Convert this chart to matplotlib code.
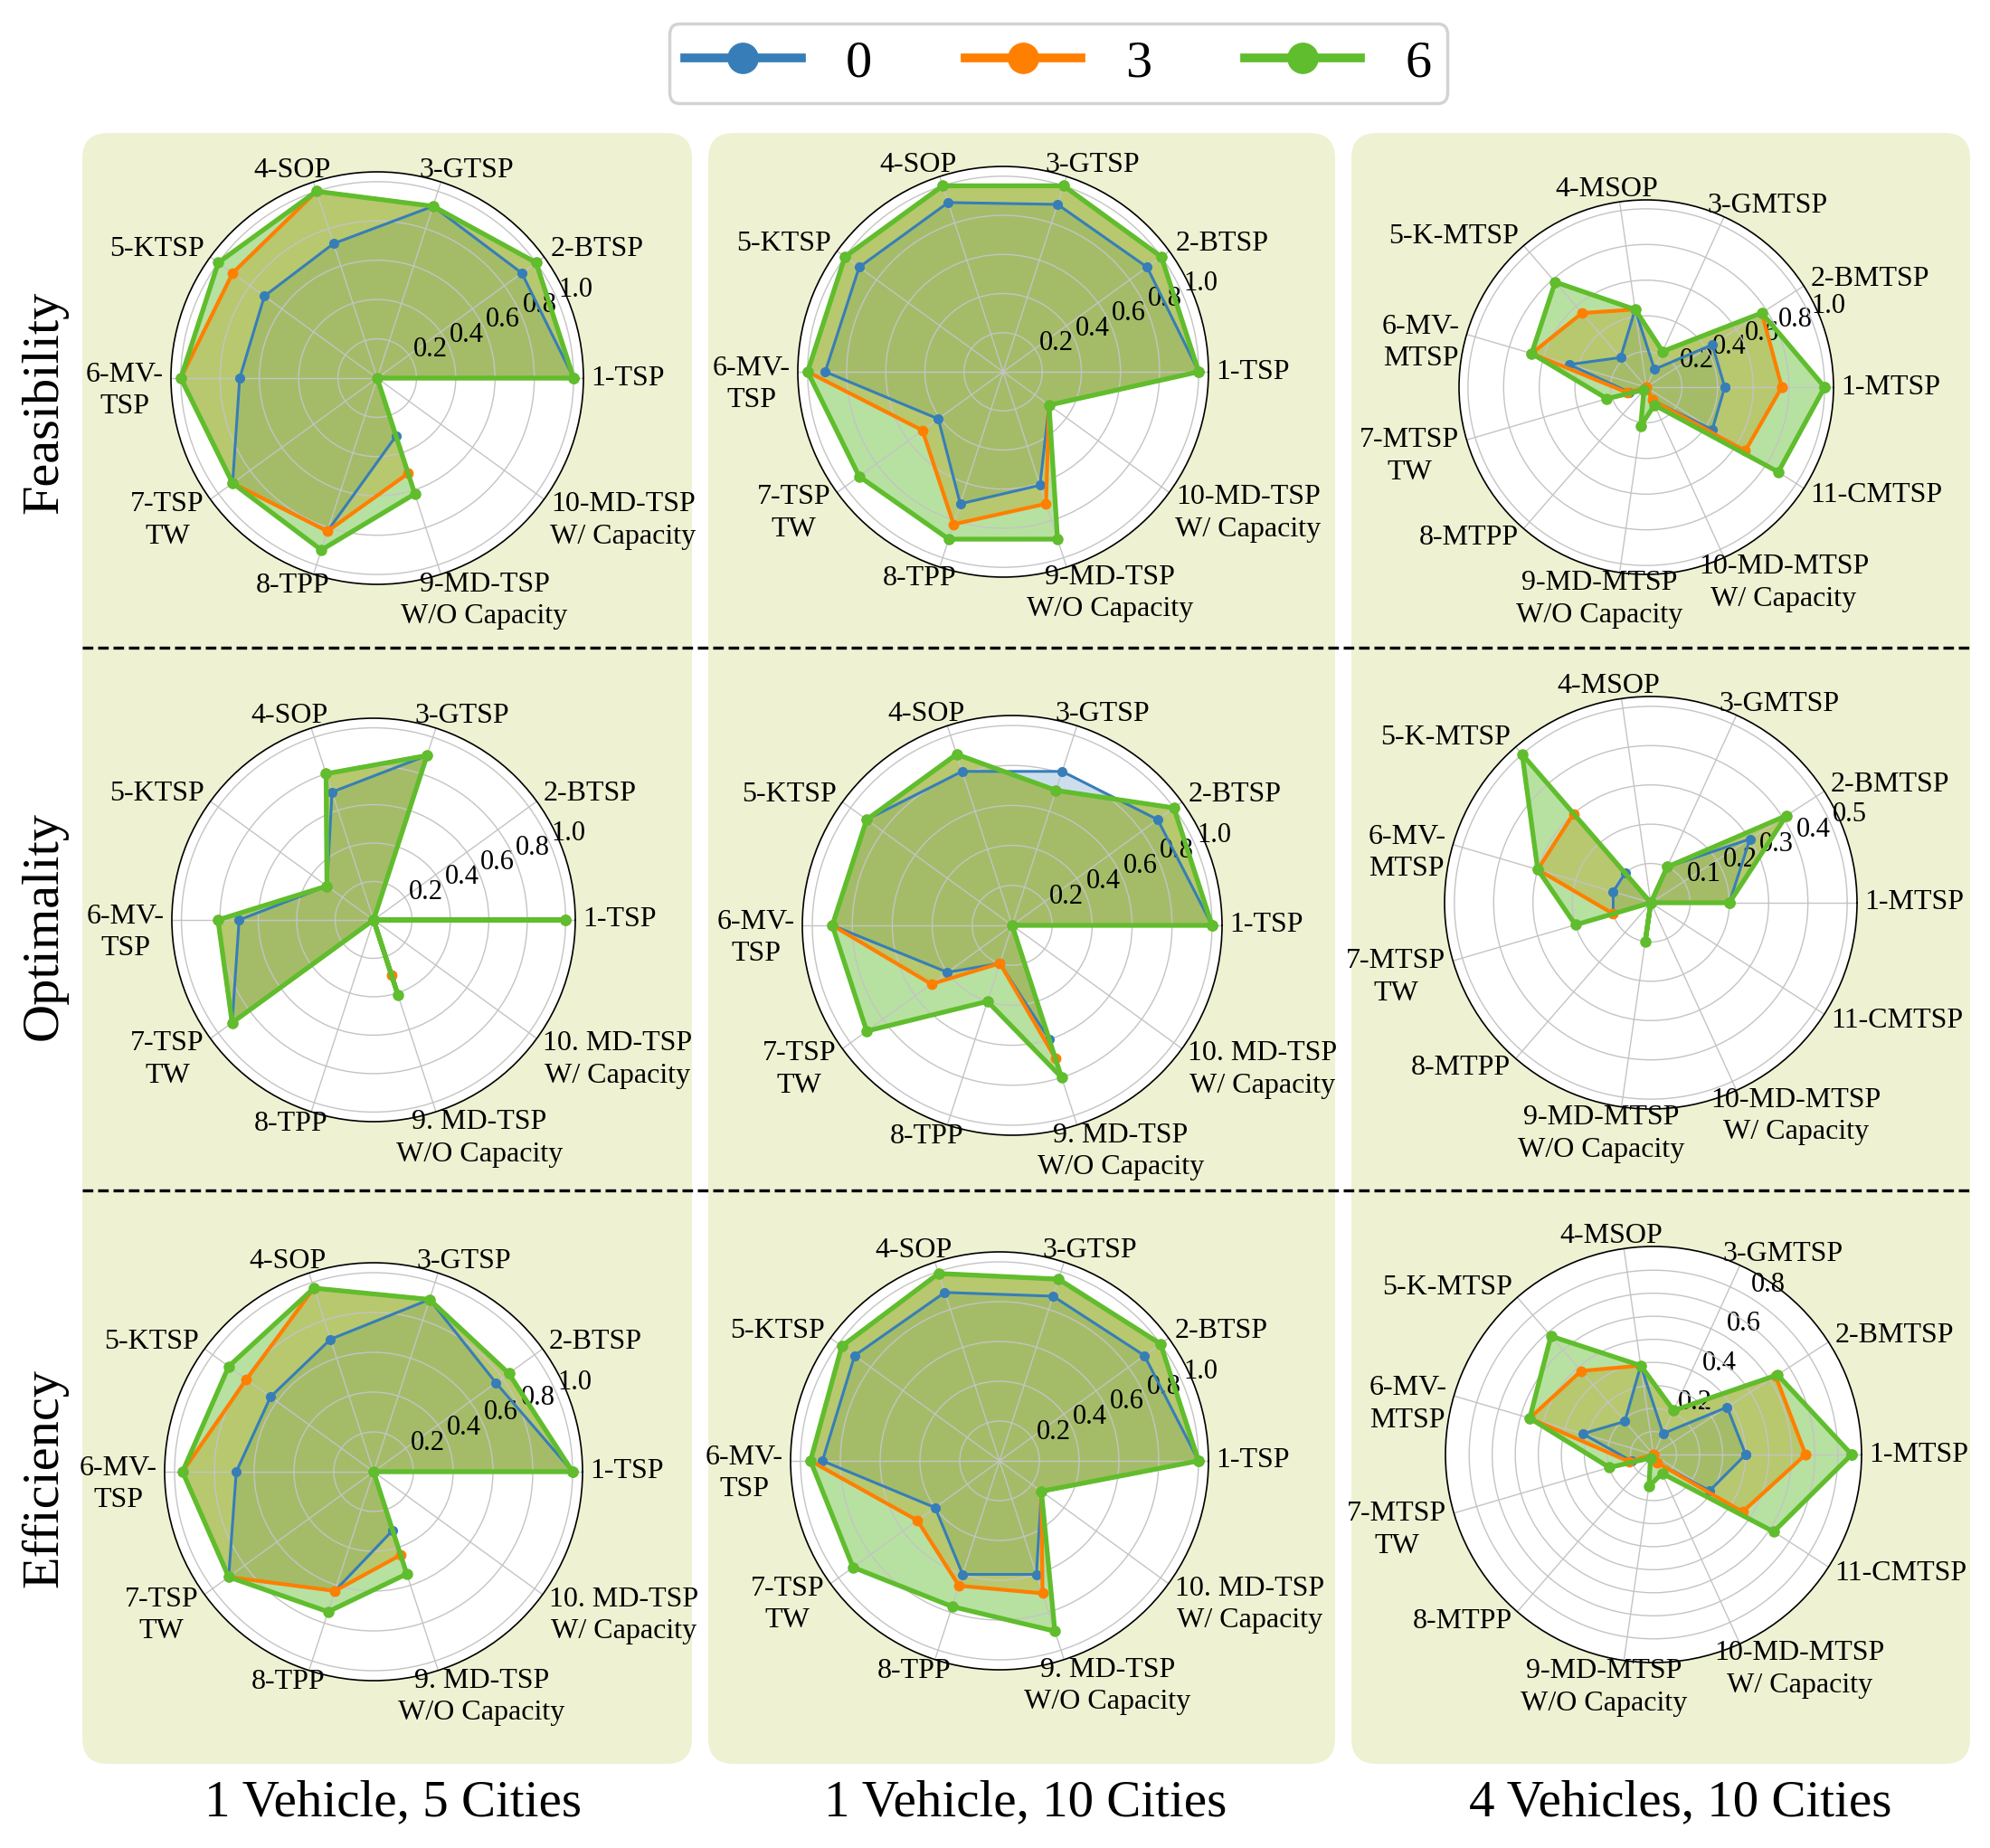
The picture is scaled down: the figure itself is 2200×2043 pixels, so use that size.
import numpy as np
import matplotlib
matplotlib.use("Agg")
import matplotlib.pyplot as plt
from matplotlib.patches import FancyBboxPatch
from matplotlib.lines import Line2D

plt.rcParams['font.family'] = ['Liberation Serif', 'DejaVu Serif']

# ---------------- data ----------------
series_names = ['0', '3', '6']
series_colors = ['#377eb8', '#ff7f00', '#60bd2d']

labels_single_row1 = ['1-TSP', '2-BTSP', '3-GTSP', '4-SOP', '5-KTSP', '6-MV-\nTSP',
                      '7-TSP\nTW', '8-TPP', '9-MD-TSP\nW/O Capacity', '10-MD-TSP\nW/ Capacity']
labels_single = ['1-TSP', '2-BTSP', '3-GTSP', '4-SOP', '5-KTSP', '6-MV-\nTSP',
                 '7-TSP\nTW', '8-TPP', '9. MD-TSP\nW/O Capacity', '10. MD-TSP\nW/ Capacity']
labels_multi = ['1-MTSP', '2-BMTSP', '3-GMTSP', '4-MSOP', '5-K-MTSP', '6-MV-\nMTSP',
                '7-MTSP\nTW', '8-MTPP', '9-MD-MTSP\nW/O Capacity', '10-MD-MTSP\nW/ Capacity',
                '11-CMTSP']

row_titles = ['Feasibility', 'Optimality', 'Efficiency']
col_titles = ['1 Vehicle, 5 Cities', '1 Vehicle, 10 Cities', '4 Vehicles, 10 Cities']

# Feasibility
feas_5c_0 = [1.0, 0.91, 0.92, 0.72, 0.71, 0.70, 0.91, 0.82, 0.31, 0.0]
feas_5c_3 = [1.0, 1.0, 0.92, 1.0, 0.91, 1.0, 0.91, 0.82, 0.51, 0.0]
feas_5c_6 = [1.0, 1.0, 0.92, 1.0, 1.0, 1.0, 0.91, 0.92, 0.62, 0.0]

feas_10c_0 = [1.0, 0.91, 0.90, 0.91, 0.91, 0.91, 0.41, 0.71, 0.61, 0.29]
feas_10c_3 = [1.0, 1.0, 1.0, 1.0, 1.0, 1.0, 0.51, 0.82, 0.71, 0.29]
feas_10c_6 = [1.0, 1.0, 1.0, 1.0, 1.0, 1.0, 0.91, 0.90, 0.90, 0.29]

feas_4v_0 = [0.44, 0.44, 0.11, 0.44, 0.22, 0.45, 0.10, 0.0, 0.0, 0.08, 0.44]
feas_4v_3 = [0.76, 0.77, 0.22, 0.44, 0.55, 0.67, 0.11, 0.0, 0.0, 0.08, 0.66]
feas_4v_6 = [1.0, 0.77, 0.22, 0.44, 0.78, 0.67, 0.23, 0.02, 0.22, 0.11, 0.88]

# Optimality
opt_5c_0 = [1.0, 0.0, 0.90, 0.70, 0.30, 0.70, 0.91, 0.0, 0.30, 0.0]
opt_5c_3 = [1.0, 0.0, 0.90, 0.80, 0.30, 0.81, 0.91, 0.0, 0.30, 0.0]
opt_5c_6 = [1.0, 0.0, 0.90, 0.80, 0.30, 0.81, 0.91, 0.0, 0.41, 0.0]

opt_10c_0 = [1.0, 0.90, 0.81, 0.81, 0.90, 0.90, 0.40, 0.20, 0.60, 0.0]
opt_10c_3 = [1.0, 1.0, 0.71, 0.90, 0.90, 0.90, 0.50, 0.20, 0.70, 0.0]
opt_10c_6 = [1.0, 1.0, 0.71, 0.90, 0.90, 0.90, 0.90, 0.40, 0.80, 0.0]

opt_4v_0 = [0.20, 0.30, 0.10, 0.0, 0.10, 0.10, 0.10, 0.0, 0.0, 0.0, 0.0]
opt_4v_3 = [0.20, 0.41, 0.10, 0.0, 0.30, 0.30, 0.10, 0.0, 0.0, 0.0, 0.0]
opt_4v_6 = [0.20, 0.41, 0.10, 0.0, 0.50, 0.30, 0.20, 0.0, 0.10, 0.0, 0.0]

# Efficiency
eff_5c_0 = [1.0, 0.76, 0.91, 0.70, 0.64, 0.69, 0.90, 0.63, 0.31, 0.0]
eff_5c_3 = [1.0, 0.84, 0.91, 0.97, 0.79, 0.96, 0.90, 0.63, 0.44, 0.0]
eff_5c_6 = [1.0, 0.84, 0.91, 0.97, 0.90, 0.96, 0.90, 0.74, 0.54, 0.0]

eff_10c_0 = [1.0, 0.90, 0.87, 0.89, 0.90, 0.89, 0.40, 0.60, 0.60, 0.26]
eff_10c_3 = [1.0, 1.0, 0.96, 0.99, 0.98, 0.95, 0.51, 0.66, 0.70, 0.26]
eff_10c_6 = [1.0, 1.0, 0.96, 0.99, 0.98, 0.95, 0.91, 0.77, 0.90, 0.26]

eff_4v_0 = [0.40, 0.38, 0.10, 0.39, 0.19, 0.32, 0.10, 0.0, 0.0, 0.04, 0.29]
eff_4v_3 = [0.66, 0.63, 0.21, 0.39, 0.48, 0.56, 0.11, 0.0, 0.0, 0.04, 0.46]
eff_4v_6 = [0.86, 0.64, 0.21, 0.39, 0.68, 0.56, 0.20, 0.02, 0.14, 0.09, 0.62]

ticks_unit = [0.2, 0.4, 0.6, 0.8, 1.0]
ticks_half = [0.1, 0.2, 0.3, 0.4, 0.5]
ticks_eff4v = [0.1, 0.2, 0.3, 0.4, 0.5, 0.6, 0.7, 0.8]
ticklabels_eff4v = ['', '0.2', '', '0.4', '', '0.6', '', '0.8']

panels = [
    # (labels, [series], ticks, ticklabels, rlabel angle) in row-major order
    (labels_single_row1, [feas_5c_0, feas_5c_3, feas_5c_6], ticks_unit, None, 22.5),
    (labels_single_row1, [feas_10c_0, feas_10c_3, feas_10c_6], ticks_unit, None, 22.5),
    (labels_multi, [feas_4v_0, feas_4v_3, feas_4v_6], ticks_unit, None, 22.5),
    (labels_single, [opt_5c_0, opt_5c_3, opt_5c_6], ticks_unit, None, 22.5),
    (labels_single, [opt_10c_0, opt_10c_3, opt_10c_6], ticks_unit, None, 22.5),
    (labels_multi, [opt_4v_0, opt_4v_3, opt_4v_6], ticks_half, None, 22.5),
    (labels_single, [eff_5c_0, eff_5c_3, eff_5c_6], ticks_unit, None, 22.5),
    (labels_single, [eff_10c_0, eff_10c_3, eff_10c_6], ticks_unit, None, 22.5),
    (labels_multi, [eff_4v_0, eff_4v_3, eff_4v_6], ticks_eff4v, ticklabels_eff4v, 58),
]

# ---------------- layout (pixels) ----------------
W, H, DPI = 2200, 2043, 100
# circle centre x, centre y, radius for each panel (row-major)
circle_geom = [(417, 418, 228), (1109, 411, 227), (1820, 428, 207),
               (413, 1017, 223), (1119, 1023, 232), (1825, 998, 228),
               (413, 1627, 231), (1105, 1615, 231), (1828, 1608, 230)]
col_boxes = [(91, 765), (783, 1476), (1494, 2178)]
box_top, box_bottom = 147, 1950
dash_y = [716, 1316]
row_title_y = [445, 1024, 1634]
col_title_x = [435, 1134, 1858]

FS_TICK = 23
FS_RLAB = 22
FS_BIG = 42
PAD = 6
line_widths = [2.2, 3.0, 3.8]
marker_sizes = [7, 7.5, 8]
fill_alphas = [0.25, 0.35, 0.45]

fig = plt.figure(figsize=(W / DPI, H / DPI), dpi=DPI)

# background axes in pixel coordinates
bg = fig.add_axes([0, 0, 1, 1], zorder=-10)
bg.set_xlim(0, W)
bg.set_ylim(H, 0)
bg.axis('off')
for x0, x1 in col_boxes:
    bg.add_patch(FancyBboxPatch((x0, box_top), x1 - x0, box_bottom - box_top,
                                boxstyle='round,pad=0,rounding_size=28',
                                fc='#eef2d2', ec='none'))
for y in dash_y:
    bg.plot([col_boxes[0][0], col_boxes[2][1]], [y, y], color='black', lw=2.4,
            linestyle=(0, (3.5, 1.6)))
for y, t in zip(row_title_y, row_titles):
    bg.text(49, y, t, rotation=90, ha='center', va='center', fontsize=FS_BIG)
for x, t in zip(col_title_x, col_titles):
    bg.text(x, 1993, t, ha='center', va='center', fontsize=FS_BIG - 1)

renderer = fig.canvas.get_renderer()

for (labels, series, ticks, ticklabels, rlab), (cx, cy, R) in zip(panels, circle_geom):
    ax = fig.add_axes([(cx - R) / W, 1 - (cy + R) / H, 2 * R / W, 2 * R / H],
                      projection='polar')
    n = len(labels)
    angles = np.linspace(0, 2 * np.pi, n, endpoint=False)
    rmax = max(max(s) for s in series) * 1.05
    ax.set_ylim(0, rmax)
    ax.set_xticks(angles)
    ax.set_xticklabels([])
    ax.tick_params(axis='x', length=0)
    ax.set_yticks(ticks)
    ax.set_yticklabels(ticklabels if ticklabels else [f'{t:.1f}' for t in ticks],
                       fontsize=FS_RLAB)
    ax.set_rlabel_position(rlab)
    ax.grid(True, color='#c4c4c4', lw=1.0)
    ax.spines['polar'].set_linewidth(1.2)
    ax.set_facecolor('white')

    a_closed = np.append(angles, angles[0])
    for vals, c, lw, ms, al in zip(series, series_colors, line_widths, marker_sizes, fill_alphas):
        v_closed = np.append(vals, vals[0])
        ax.fill(a_closed, v_closed, color=c, alpha=al, lw=0)
        ax.plot(a_closed, v_closed, color=c, lw=lw, marker='o', ms=ms, clip_on=False)

    # category labels placed just outside the circle
    for lab, ang in zip(labels, angles):
        t = ax.annotate(lab, xy=(ang, rmax), xytext=(0, 0), textcoords='offset points',
                        ha='center', va='center', fontsize=FS_TICK, linespacing=1.3,
                        annotation_clip=False)
        bb = t.get_window_extent(renderer)
        w = bb.width * 72 / DPI
        h = bb.height * 72 / DPI
        nl = lab.count('\n') + 1
        h1 = h / nl if nl == 1 else FS_TICK * 1.15
        fx = np.clip(1.6 * np.cos(ang), -1, 1)
        dx = PAD * np.cos(ang) + fx * w / 2
        dy = 0.6 * (PAD + h1 / 2) * np.sin(ang) - (h - h1) / 2
        t.xyann = (dx, dy)

# legend
handles = [Line2D([0], [0], color=c, lw=7, marker='o', ms=24) for c in series_colors]
leg = fig.legend(handles, series_names, loc='center', bbox_to_anchor=(1170 / W, 1 - 70 / H),
                 ncol=3, fontsize=FS_BIG, handlelength=2.2, handletextpad=0.85,
                 columnspacing=1.75, borderpad=0.3, frameon=True, fancybox=True,
                 edgecolor='#d3d3d3', framealpha=1)
leg.get_frame().set_linewidth(2.5)

fig.savefig('out.png', dpi=DPI, facecolor='white')
